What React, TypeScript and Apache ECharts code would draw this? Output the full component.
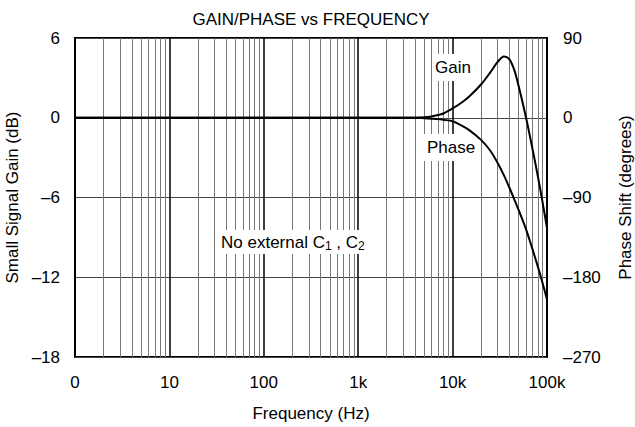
import React, { useEffect, useRef } from "react";
import * as echarts from "echarts";

const freqHz = [1, 1000, 4000, 5000, 6000, 7000, 8000, 10000, 12500, 15000, 20000, 25000, 30000, 35000, 40000, 45000, 50000, 60000, 70000, 80000, 90000, 100000];
const gainDb = [0, 0, 0, 0.03, 0.1, 0.2, 0.32, 0.7, 1.15, 1.6, 2.5, 3.4, 4.2, 4.6, 4.4, 3.6, 2.4, 0.0, -2.3, -4.4, -6.4, -8.3];
const phaseDeg = [0, 0, 0, -0.5, -1, -1.5, -2.3, -4, -9, -14, -25, -37, -51, -65, -79, -92, -104, -126, -148, -168, -187, -205];
const minorGridFreqs = [2, 3, 4, 5, 6, 7, 8, 9].flatMap((m) => [1, 10, 100, 1000, 10000].map((d) => m * d));
const xTickLabels: Record<number, string> = { 1: "0", 10: "10", 100: "100", 1000: "1k", 10000: "10k", 100000: "100k" };

const FONT = "Liberation Sans, Arial, sans-serif";
const FS = 17;

export default function App() {
  const ref = useRef<HTMLDivElement>(null);
  useEffect(() => {
    if (!ref.current) return;
    const chart = echarts.init(ref.current, undefined, { renderer: "svg" });
    const dash = (v: number) => String(v).replace("-", "\u2013");
    const txt = { fontFamily: FONT, fontSize: FS, color: "#000" };
    chart.setOption({
      animation: false,
      backgroundColor: "#fff",
      textStyle: { fontFamily: FONT, color: "#000" },
      title: {
        text: "GAIN/PHASE vs FREQUENCY",
        left: 306,
        textAlign: "center",
        top: 6,
        textStyle: { ...txt, fontWeight: "normal" },
      },
      grid: {
        left: 75,
        right: 88,
        top: 38,
        bottom: 70,
        show: true,
        borderColor: "#000",
        borderWidth: 2,
        backgroundColor: "transparent",
        outerBoundsMode: "none",
        containLabel: false,
      },
      xAxis: {
        type: "log",
        logBase: 10,
        min: 1,
        max: 100000,
        name: "Frequency (Hz)",
        nameLocation: "middle",
        nameGap: 48,
        nameTextStyle: txt,
        axisLine: { show: false },
        axisTick: { show: false },
        axisLabel: {
          ...txt,
          margin: 17,
          formatter: (v: number) => xTickLabels[Math.round(v)] ?? "",
        },
        splitLine: { show: true, lineStyle: { color: "#000", width: 1.5 } },
      },
      yAxis: [
        {
          type: "value",
          min: -18,
          max: 6,
          interval: 6,
          name: "Small Signal Gain (dB)",
          nameLocation: "middle",
          nameGap: 48,
          nameTextStyle: txt,
          axisLine: { show: false },
          axisTick: { show: false },
          axisLabel: { ...txt, margin: 15, formatter: dash },
          splitLine: { show: true, lineStyle: { color: "#444", width: 1 } },
        },
        {
          type: "value",
          min: -270,
          max: 90,
          interval: 90,
          position: "right",
          name: "Phase Shift (degrees)",
          nameLocation: "middle",
          nameGap: 70,
          nameRotate: 90,
          nameTextStyle: txt,
          axisLine: { show: false },
          axisTick: { show: false },
          axisLabel: { ...txt, margin: 16, formatter: dash },
          splitLine: { show: false },
        },
      ],
      series: [
        {
          type: "line",
          name: "grid",
          data: [],
          silent: true,
          z: 1,
          markLine: {
            silent: true,
            symbol: "none",
            label: { show: false },
            lineStyle: { color: "#777", width: 1, type: "solid" },
            data: minorGridFreqs.map((f) => ({ xAxis: f })),
          },
        },
        {
          type: "line",
          name: "Gain",
          yAxisIndex: 0,
          data: freqHz.map((f, i) => [f, gainDb[i]]),
          showSymbol: false,
          smooth: 0.3,
          lineStyle: { color: "#000", width: 2 },
          z: 30,
        },
        {
          type: "line",
          name: "Phase",
          yAxisIndex: 1,
          data: freqHz.map((f, i) => [f, phaseDeg[i]]),
          showSymbol: false,
          smooth: 0.3,
          lineStyle: { color: "#000", width: 2 },
          z: 30,
        },
      ],
      graphic: [
        {
          type: "text",
          left: 432,
          top: 54,
          z: 10,
          style: { text: "Gain", fontFamily: FONT, fontSize: FS, fill: "#000", backgroundColor: "#fff", padding: [5, 6, 5, 3] },
        },
        {
          type: "text",
          left: 424,
          top: 134,
          z: 10,
          style: { text: "Phase", fontFamily: FONT, fontSize: FS, fill: "#000", backgroundColor: "#fff", padding: [5, 1, 5, 3] },
        },
        {
          type: "text",
          left: 218,
          top: 230,
          z: 10,
          style: {
            text: "{n|No external C}{s|1}{n| , C}{s|2}",
            backgroundColor: "#fff",
            padding: [2, 3, 2, 3],
            rich: {
              n: { fontFamily: FONT, fontSize: FS, fill: "#000", lineHeight: 20, verticalAlign: "middle" },
              s: { fontFamily: FONT, fontSize: 12, fill: "#000", lineHeight: 20, verticalAlign: "bottom", padding: [7, 0, 0, 0] },
            },
          },
        },
      ],
    });
    return () => chart.dispose();
  }, []);
  return <div ref={ref} style={{ width: 635, height: 427, position: "absolute", left: 0, top: 0 }} />;
}
